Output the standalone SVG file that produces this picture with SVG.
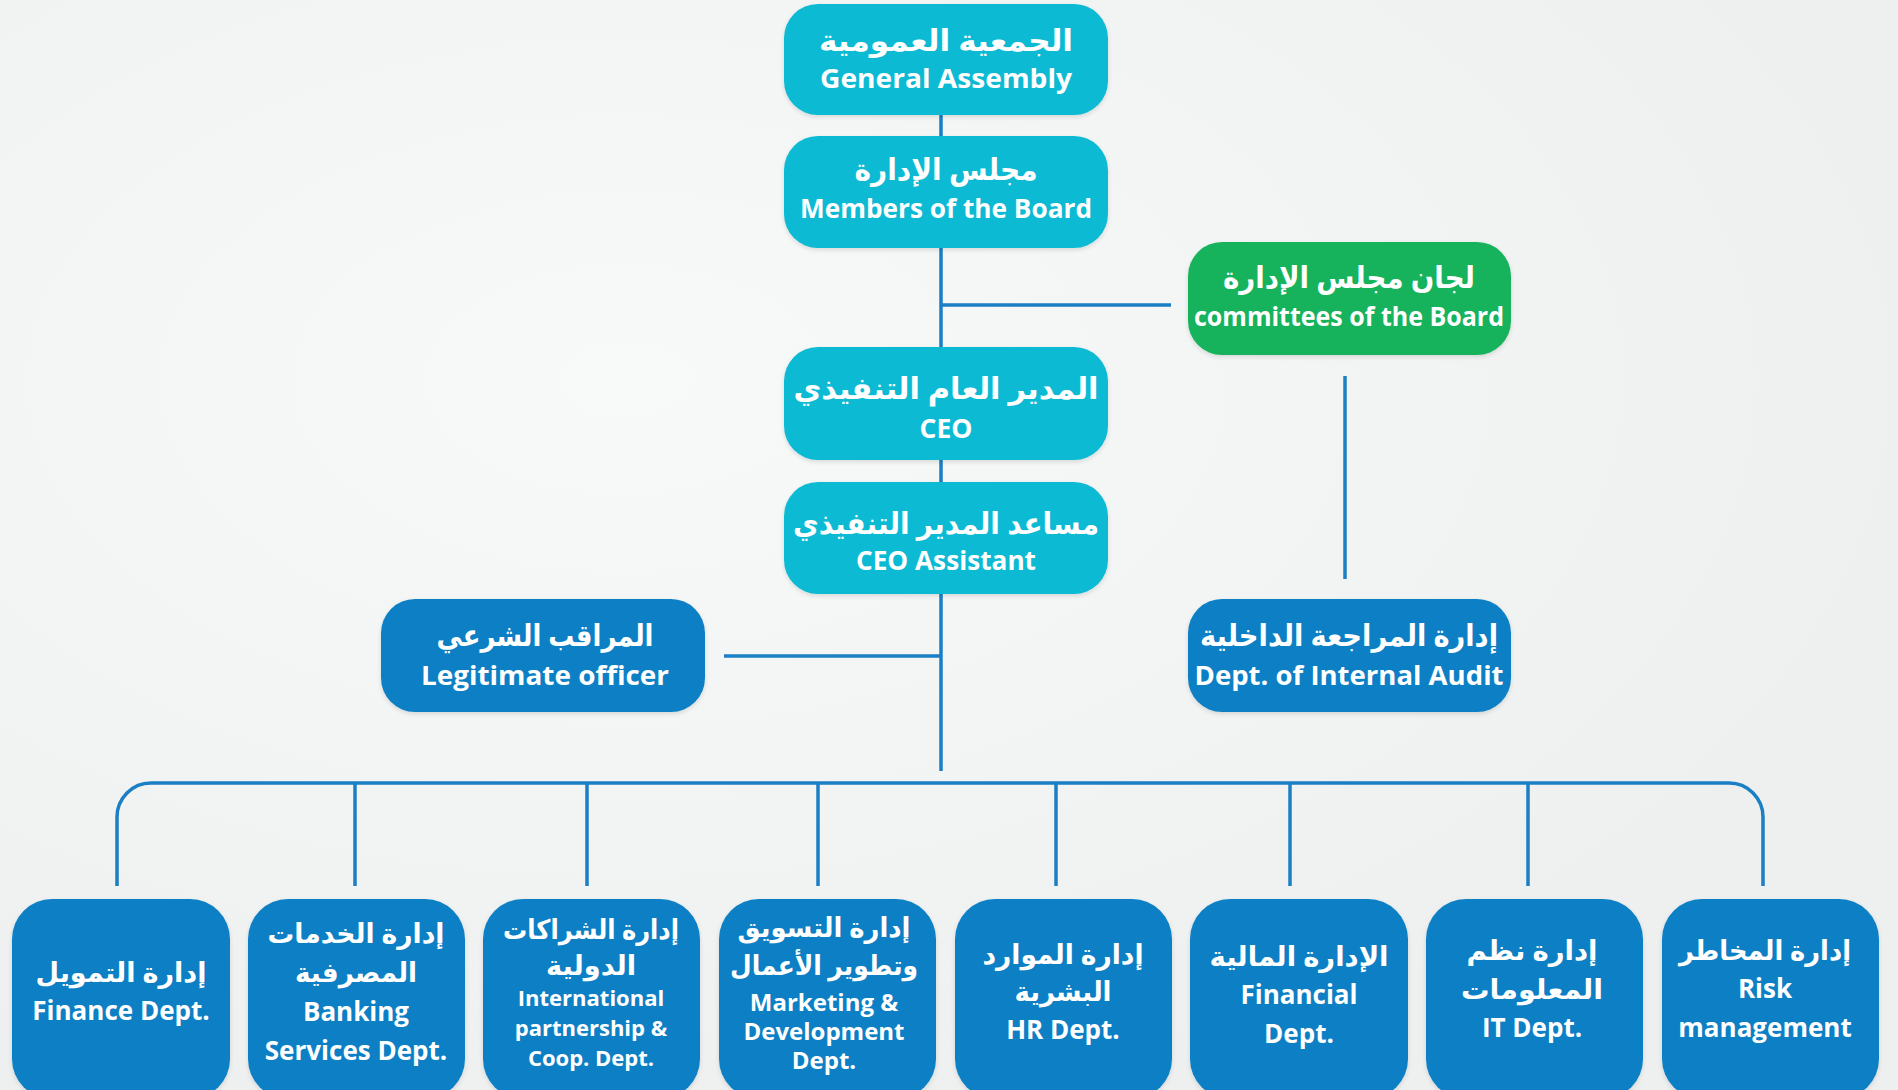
<svg xmlns="http://www.w3.org/2000/svg" width="1898" height="1090" viewBox="0 0 1898 1090">
<defs>
<radialGradient id="bg" cx="0.33" cy="0.35" r="0.7">
<stop offset="0" stop-color="#f8f9f9"/>
<stop offset="1" stop-color="#eeefef"/>
</radialGradient>
<filter id="sh" x="-10%" y="-10%" width="120%" height="130%">
<feDropShadow dx="0" dy="2" stdDeviation="2" flood-color="#000" flood-opacity="0.12"/>
</filter>
<style>
.cy{fill:#0cbad3;filter:url(#sh)}
.gr{fill:#19b35c;filter:url(#sh)}
.bl{fill:#0b80c5;filter:url(#sh)}
.ln{stroke:#1a7fc4;stroke-width:3.5;fill:none}
text{fill:#ffffff;font-family:"Open Sans","Noto Sans","DejaVu Sans",sans-serif;font-weight:bold;text-anchor:middle;dominant-baseline:central}
.ar{font-size:30px}
.en{font-size:27px}
.bar{font-size:27px}
.ben{font-size:26px}
.md{font-size:24px}
.sm{font-size:22px}
</style>
</defs>
<rect width="1898" height="1090" fill="url(#bg)"/>
<g id="connectors">
<line class="ln" x1="941" y1="110" x2="941" y2="771"/>
<line class="ln" x1="941" y1="305" x2="1171" y2="305"/>
<line class="ln" x1="1345" y1="376" x2="1345" y2="579"/>
<line class="ln" x1="724" y1="656" x2="941" y2="656"/>
<path class="ln" d="M117 886 V817 A34 34 0 0 1 151 783 H1729 A34 34 0 0 1 1763 817 V886"/>
<line class="ln" x1="355" y1="783" x2="355" y2="886"/>
<line class="ln" x1="587" y1="783" x2="587" y2="886"/>
<line class="ln" x1="818" y1="783" x2="818" y2="886"/>
<line class="ln" x1="1056" y1="783" x2="1056" y2="886"/>
<line class="ln" x1="1290" y1="783" x2="1290" y2="886"/>
<line class="ln" x1="1528" y1="783" x2="1528" y2="886"/>
</g>
<g id="general-assembly">
<rect class="cy" x="784" y="4" width="324" height="111" rx="34"/>
<text class="ar" x="946" y="39" textLength="254" lengthAdjust="spacingAndGlyphs">الجمعية العمومية</text>
<text class="en" x="946" y="77" textLength="252" lengthAdjust="spacingAndGlyphs">General Assembly</text>
</g>
<g id="board">
<rect class="cy" x="784" y="136" width="324" height="112" rx="34"/>
<text class="ar" x="946" y="168" textLength="183" lengthAdjust="spacingAndGlyphs">مجلس الإدارة</text>
<text class="en" x="946" y="207" textLength="292" lengthAdjust="spacingAndGlyphs">Members of the Board</text>
</g>
<g id="committees">
<rect class="gr" x="1188" y="242" width="323" height="113" rx="34"/>
<text class="ar" x="1349" y="276" textLength="252" lengthAdjust="spacingAndGlyphs">لجان مجلس الإدارة</text>
<text class="en" x="1349" y="315" textLength="310" lengthAdjust="spacingAndGlyphs">committees of the Board</text>
</g>
<g id="ceo">
<rect class="cy" x="784" y="347" width="324" height="113" rx="34"/>
<text class="ar" x="946" y="387" textLength="305" lengthAdjust="spacingAndGlyphs">المدير العام التنفيذي</text>
<text class="en" x="946" y="427" textLength="53" lengthAdjust="spacingAndGlyphs">CEO</text>
</g>
<g id="ceo-assistant">
<rect class="cy" x="784" y="482" width="324" height="112" rx="34"/>
<text class="ar" x="946" y="522" textLength="306" lengthAdjust="spacingAndGlyphs">مساعد المدير التنفيذي</text>
<text class="en" x="946" y="559" textLength="180" lengthAdjust="spacingAndGlyphs">CEO Assistant</text>
</g>
<g id="legitimate-officer">
<rect class="bl" x="381" y="599" width="324" height="113" rx="34"/>
<text class="ar" x="545" y="634" textLength="217" lengthAdjust="spacingAndGlyphs">المراقب الشرعي</text>
<text class="en" x="545" y="674" textLength="248" lengthAdjust="spacingAndGlyphs">Legitimate officer</text>
</g>
<g id="internal-audit">
<rect class="bl" x="1188" y="599" width="323" height="113" rx="34"/>
<text class="ar" x="1349" y="634" textLength="298" lengthAdjust="spacingAndGlyphs">إدارة المراجعة الداخلية</text>
<text class="en" x="1349" y="674" textLength="309" lengthAdjust="spacingAndGlyphs">Dept. of Internal Audit</text>
</g>
<g id="finance-dept">
<rect class="bl" x="12" y="899" width="218" height="200" rx="40"/>
<text class="bar" x="121" y="971" textLength="171" lengthAdjust="spacingAndGlyphs">إدارة التمويل</text>
<text class="ben" x="121" y="1010">Finance Dept.</text>
</g>
<g id="banking-dept">
<rect class="bl" x="248" y="899" width="217" height="200" rx="40"/>
<text class="bar" x="356" y="932" textLength="177" lengthAdjust="spacingAndGlyphs">إدارة الخدمات</text>
<text class="bar" x="356" y="971" textLength="122" lengthAdjust="spacingAndGlyphs">المصرفية</text>
<text class="ben" x="356" y="1011">Banking</text>
<text class="ben" x="356" y="1050">Services Dept.</text>
</g>
<g id="international-dept">
<rect class="bl" x="483" y="899" width="217" height="200" rx="40"/>
<text class="bar" x="591" y="928" textLength="176" lengthAdjust="spacingAndGlyphs">إدارة الشراكات</text>
<text class="bar" x="591" y="964" textLength="90" lengthAdjust="spacingAndGlyphs">الدولية</text>
<text class="sm" x="591" y="997">International</text>
<text class="sm" x="591" y="1027">partnership &amp;</text>
<text class="sm" x="591" y="1057">Coop. Dept.</text>
</g>
<g id="marketing-dept">
<rect class="bl" x="719" y="899" width="217" height="200" rx="40"/>
<text class="bar" x="824" y="926" textLength="173" lengthAdjust="spacingAndGlyphs">إدارة التسويق</text>
<text class="bar" x="824" y="964" textLength="188" lengthAdjust="spacingAndGlyphs">وتطوير الأعمال</text>
<text class="md" x="824" y="1001">Marketing &amp;</text>
<text class="md" x="824" y="1030">Development</text>
<text class="md" x="824" y="1059">Dept.</text>
</g>
<g id="hr-dept">
<rect class="bl" x="955" y="899" width="217" height="200" rx="40"/>
<text class="bar" x="1063" y="953" textLength="161" lengthAdjust="spacingAndGlyphs">إدارة الموارد</text>
<text class="bar" x="1063" y="990" textLength="97" lengthAdjust="spacingAndGlyphs">البشرية</text>
<text class="ben" x="1063" y="1029">HR Dept.</text>
</g>
<g id="financial-dept">
<rect class="bl" x="1190" y="899" width="218" height="200" rx="40"/>
<text class="bar" x="1299" y="955" textLength="179" lengthAdjust="spacingAndGlyphs">الإدارة المالية</text>
<text class="ben" x="1299" y="994">Financial</text>
<text class="ben" x="1299" y="1033">Dept.</text>
</g>
<g id="it-dept">
<rect class="bl" x="1426" y="899" width="217" height="200" rx="40"/>
<text class="bar" x="1532" y="949" textLength="131" lengthAdjust="spacingAndGlyphs">إدارة نظم</text>
<text class="bar" x="1532" y="988" textLength="142" lengthAdjust="spacingAndGlyphs">المعلومات</text>
<text class="ben" x="1532" y="1027">IT Dept.</text>
</g>
<g id="risk-dept">
<rect class="bl" x="1662" y="899" width="217" height="200" rx="40"/>
<text class="bar" x="1765" y="949" textLength="172" lengthAdjust="spacingAndGlyphs">إدارة المخاطر</text>
<text class="ben" x="1765" y="988">Risk</text>
<text class="ben" x="1765" y="1027">management</text>
</g>
</svg>
